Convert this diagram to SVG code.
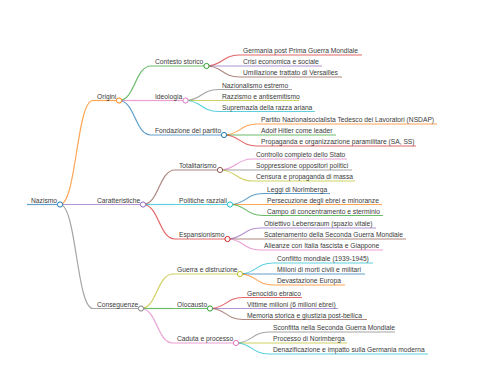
<svg xmlns="http://www.w3.org/2000/svg" width="480" height="384" viewBox="0 0 480 384">
<style>
text{font-family:"Liberation Sans",Arial,sans-serif;font-size:6.7px;fill:#3a3a3a}
path,line{fill:none;stroke-width:1.2;stroke-opacity:0.7}
circle{fill:#fff;stroke-width:1}
.c0{stroke:#1f77b4}.c1{stroke:#ff7f0e}.c2{stroke:#2ca02c}.c3{stroke:#d62728}.c4{stroke:#9467bd}
.c5{stroke:#8c564b}.c6{stroke:#e377c2}.c7{stroke:#7f7f7f}.c8{stroke:#bcbd22}.c9{stroke:#17becf}
</style>
<rect width="480" height="384" fill="#fff"/>
<g id="connectors">
<path class="c1" d="M60,204.5 C76.5,204.5 76.5,100.5 93,100.5"/>
<path class="c4" d="M60,204.5 H93"/>
<path class="c7" d="M60,204.5 C76.5,204.5 76.5,308.5 93,308.5"/>
<path class="c2" d="M119,100.5 C135,100.5 135,66 151,66"/>
<path class="c6" d="M119,100.5 H151"/>
<path class="c0" d="M119,100.5 C135,100.5 135,135 151,135"/>
<path class="c5" d="M143,204.5 C159,204.5 159,170 175,170"/>
<path class="c9" d="M143,204.5 H175"/>
<path class="c3" d="M143,204.5 C159,204.5 159,239 175,239"/>
<path class="c8" d="M141,308.5 C157,308.5 157,274 173,274"/>
<path class="c2" d="M141,308.5 H173"/>
<path class="c6" d="M141,308.5 C157,308.5 157,343 173,343"/>
<path class="c3" d="M206.5,66 C222.5,66 222.5,55 239,55 H362"/>
<path class="c4" d="M206.5,66 H322"/>
<path class="c5" d="M206.5,66 C222.5,66 222.5,77 239,77 H342"/>
<path class="c7" d="M185.5,100.5 C201.5,100.5 201.5,89.5 218,89.5 H292"/>
<path class="c8" d="M185.5,100.5 H299"/>
<path class="c9" d="M185.5,100.5 C201.5,100.5 201.5,111.5 218,111.5 H315"/>
<path class="c1" d="M224,135 C240,135 240,124 257,124 H437"/>
<path class="c2" d="M224,135 H336"/>
<path class="c3" d="M224,135 C240,135 240,146 257,146 H416"/>
<path class="c6" d="M220,170 C236,170 236,159 252,159 H347"/>
<path class="c7" d="M220,170 H352"/>
<path class="c8" d="M220,170 C236,170 236,181 252,181 H355"/>
<path class="c0" d="M230,204.5 C246,204.5 246,193.5 263,193.5 H330"/>
<path class="c1" d="M230,204.5 H382"/>
<path class="c2" d="M230,204.5 C246,204.5 246,215.5 263,215.5 H383"/>
<path class="c4" d="M227.5,239 C243.5,239 243.5,228 260,228 H376"/>
<path class="c5" d="M227.5,239 H406"/>
<path class="c6" d="M227.5,239 C243.5,239 243.5,250 260,250 H383"/>
<path class="c9" d="M240,274 C256,274 256,263 273,263 H373"/>
<path class="c0" d="M240,274 H365"/>
<path class="c1" d="M240,274 C256,274 256,285 273,285 H345"/>
<path class="c3" d="M210,308.5 C226,308.5 226,297.5 243,297.5 H302"/>
<path class="c4" d="M210,308.5 H338"/>
<path class="c5" d="M210,308.5 C226,308.5 226,319.5 243,319.5 H367"/>
<path class="c7" d="M236,343 C252,343 252,332 269,332 H395"/>
<path class="c8" d="M236,343 H347"/>
<path class="c9" d="M236,343 C252,343 252,354 269,354 H428"/>
</g>
<g id="n-nazismo"><line class="c0" x1="27" y1="204.5" x2="57" y2="204.5" stroke-width="1.6"/><text x="31" y="202.5">Nazismo</text><circle class="c0" cx="60" cy="204.5" r="2.6"/></g>
<g id="n-origini"><line class="c1" x1="93" y1="100.5" x2="116.5" y2="100.5"/><text x="97" y="98.5">Origini</text><circle class="c1" cx="119" cy="100.5" r="2.6"/></g>
<g id="n-caratteristiche"><line class="c4" x1="93" y1="204.5" x2="140.5" y2="204.5"/><text x="97" y="202.5">Caratteristiche</text><circle class="c4" cx="143" cy="204.5" r="2.6"/></g>
<g id="n-conseguenze"><line class="c7" x1="93" y1="308.5" x2="138.5" y2="308.5"/><text x="97" y="306.5">Conseguenze</text><circle class="c7" cx="141" cy="308.5" r="2.6"/></g>
<g id="n-contesto"><line class="c2" x1="151" y1="66" x2="204" y2="66"/><text x="155" y="64">Contesto storico</text><circle class="c2" cx="206.5" cy="66" r="2.6"/></g>
<g id="n-ideologia"><line class="c6" x1="151" y1="100.5" x2="183" y2="100.5"/><text x="155" y="98.5">Ideologia</text><circle class="c6" cx="185.5" cy="100.5" r="2.6"/></g>
<g id="n-fondazione"><line class="c0" x1="151" y1="135" x2="221.5" y2="135"/><text x="155" y="133">Fondazione del partito</text><circle class="c0" cx="224" cy="135" r="2.6"/></g>
<g id="n-totalitarismo"><line class="c5" x1="175" y1="170" x2="217.5" y2="170"/><text x="179" y="168">Totalitarismo</text><circle class="c5" cx="220" cy="170" r="2.6"/></g>
<g id="n-politiche"><line class="c9" x1="175" y1="204.5" x2="227.5" y2="204.5"/><text x="179" y="202.5">Politiche razziali</text><circle class="c9" cx="230" cy="204.5" r="2.6"/></g>
<g id="n-espansionismo"><line class="c3" x1="175" y1="239" x2="225" y2="239"/><text x="179" y="237">Espansionismo</text><circle class="c3" cx="227.5" cy="239" r="2.6"/></g>
<g id="n-guerra"><line class="c8" x1="173" y1="274" x2="237.5" y2="274"/><text x="177" y="272">Guerra e distruzione</text><circle class="c8" cx="240" cy="274" r="2.6"/></g>
<g id="n-olocausto"><line class="c2" x1="173" y1="308.5" x2="207.5" y2="308.5"/><text x="177" y="306.5">Olocausto</text><circle class="c2" cx="210" cy="308.5" r="2.6"/></g>
<g id="n-caduta"><line class="c6" x1="173" y1="343" x2="233.5" y2="343"/><text x="177" y="341">Caduta e processo</text><circle class="c6" cx="236" cy="343" r="2.6"/></g>
<g id="n-l1"><text x="243" y="53">Germania post Prima Guerra Mondiale</text></g>
<g id="n-l2"><text x="243" y="64">Crisi economica e sociale</text></g>
<g id="n-l3"><text x="243" y="75">Umiliazione trattato di Versailles</text></g>
<g id="n-l4"><text x="222" y="87.5">Nazionalismo estremo</text></g>
<g id="n-l5"><text x="222" y="98.5">Razzismo e antisemitismo</text></g>
<g id="n-l6"><text x="222" y="109.5">Supremazia della razza ariana</text></g>
<g id="n-l7"><text x="261" y="122">Partito Nazionalsocialista Tedesco dei Lavoratori (NSDAP)</text></g>
<g id="n-l8"><text x="261" y="133">Adolf Hitler come leader</text></g>
<g id="n-l9"><text x="261" y="144">Propaganda e organizzazione paramilitare (SA, SS)</text></g>
<g id="n-l10"><text x="256" y="157">Controllo completo dello Stato</text></g>
<g id="n-l11"><text x="256" y="168">Soppressione oppositori politici</text></g>
<g id="n-l12"><text x="256" y="179">Censura e propaganda di massa</text></g>
<g id="n-l13"><text x="267" y="191.5">Leggi di Norimberga</text></g>
<g id="n-l14"><text x="267" y="202.5">Persecuzione degli ebrei e minoranze</text></g>
<g id="n-l15"><text x="267" y="213.5">Campo di concentramento e sterminio</text></g>
<g id="n-l16"><text x="264" y="226">Obiettivo Lebensraum (spazio vitale)</text></g>
<g id="n-l17"><text x="264" y="237">Scatenamento della Seconda Guerra Mondiale</text></g>
<g id="n-l18"><text x="264" y="248">Alleanze con Italia fascista e Giappone</text></g>
<g id="n-l19"><text x="277" y="261">Conflitto mondiale (1939-1945)</text></g>
<g id="n-l20"><text x="277" y="272">Milioni di morti civili e militari</text></g>
<g id="n-l21"><text x="277" y="283">Devastazione Europa</text></g>
<g id="n-l22"><text x="247" y="295.5">Genocidio ebraico</text></g>
<g id="n-l23"><text x="247" y="306.5">Vittime milioni (6 milioni ebrei)</text></g>
<g id="n-l24"><text x="247" y="317.5">Memoria storica e giustizia post-bellica</text></g>
<g id="n-l25"><text x="273" y="330">Sconfitta nella Seconda Guerra Mondiale</text></g>
<g id="n-l26"><text x="273" y="341">Processo di Norimberga</text></g>
<g id="n-l27"><text x="273" y="352">Denazificazione e impatto sulla Germania moderna</text></g>
</svg>
